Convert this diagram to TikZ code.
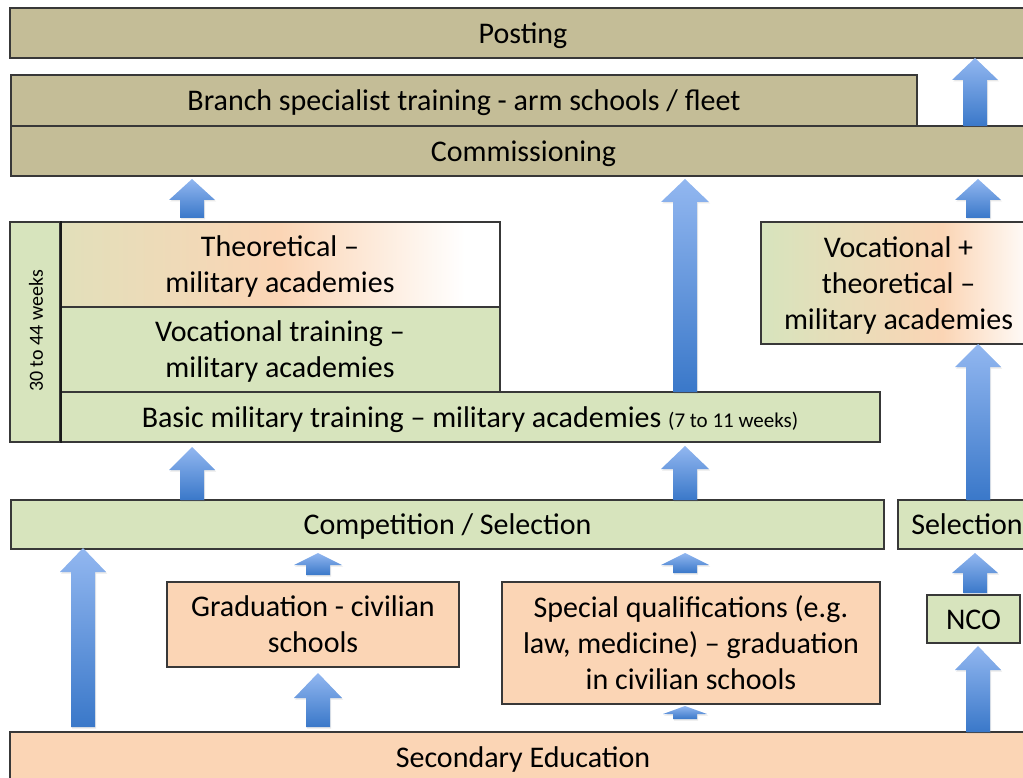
\documentclass[tikz,border=0pt]{standalone}
\usepackage{fontspec}
\setmainfont{Carlito}
\usetikzlibrary{shadows}
\definecolor{tanc}{HTML}{C4BD97}
\definecolor{grc}{HTML}{D7E4BD}
\definecolor{pcc}{HTML}{FBD5B5}
\definecolor{bordc}{HTML}{383838}
\definecolor{arrtop}{HTML}{92B7F0}
\definecolor{arrbot}{HTML}{3A78C9}
\pgfdeclarehorizontalshading{theoshade}{100bp}{color(0bp)=(grc); color(25bp)=(grc!70!pcc); color(50bp)=(pcc); color(71bp)=(white); color(100bp)=(white)}
\pgfdeclarehorizontalshading{vocshade}{100bp}{color(0bp)=(grc); color(25bp)=(grc); color(58bp)=(pcc); color(75bp)=(white); color(100bp)=(white)}
\newcommand\mystrut{\rule[-8.1pt]{0pt}{36.6pt}}
\newcommand\blockarr[5]{%
  \shade[arrowsty] (#1-12,#4) -- (#1-12,#3) -- (#1-#5,#3) -- (#1,#2) -- (#1+#5,#3) -- (#1+12,#3) -- (#1+12,#4) -- cycle;}
\begin{document}
\begin{tikzpicture}[x=1pt,y=-1pt,
  box/.style={draw=bordc, line width=1.3pt, inner sep=0pt, align=center,
    font=\fontsize{30}{36}\selectfont,
    execute at begin node=\mystrut, execute at end node=\mystrut},
  tanbox/.style={box, fill=tanc},
  grbox/.style={box, fill=grc},
  pcbox/.style={box, fill=pcc},
  arrowsty/.style={top color=arrtop, bottom color=arrbot, draw=none,
    drop shadow={opacity=0.18, shadow xshift=1.2pt, shadow yshift=-1.5pt}}]
\useasboundingbox (0,0) rectangle (1023,778);
\clip (0,0) rectangle (1023,778);
% top rows
\node[tanbox, minimum width=1026pt, minimum height=50pt] (posting) at (523,33) {Posting};
\node[tanbox, minimum width=906pt, minimum height=51pt] (branch) at (464,100.5) {Branch specialist training - arm schools / fleet};
\node[tanbox, minimum width=1025pt, minimum height=50pt] (commiss) at (523.5,151) {Commissioning};
% left academy block
\node[grbox, minimum width=50pt, minimum height=220pt] (weeks) at (35,332) {};
\node[rotate=90, font=\fontsize{20}{24}\selectfont, inner sep=0pt] (weekslbl) at (36,331) {30 to 44 weeks};
\node[box, shade, shading=theoshade, minimum width=440pt, minimum height=85pt] (theo) at (280,264.5) {\mystrut Theoretical --\\military academies};
\node[grbox, minimum width=440pt, minimum height=85pt] (voc) at (280,349.5) {\mystrut Vocational training --\\military academies};
\node[grbox, minimum width=820pt, minimum height=50pt] (basic) at (470,417) {Basic military training -- military academies {\fontsize{21}{24}\selectfont (7 to 11 weeks)}};
\draw[line width=2.2pt, black!90] (weeks.north east) -- (weeks.south east);
% right academy
\node[box, shade, shading=vocshade, minimum width=275pt, minimum height=122pt] (vocth) at (898.5,283) {\mystrut Vocational +\\theoretical --\\military academies};
% selection row
\node[grbox, minimum width=873pt, minimum height=49pt] (comp) at (447.5,524.5) {Competition / Selection};
\node[grbox, minimum width=138pt, minimum height=49pt] (sel) at (967,524.5) {Selection};
% lower row
\node[pcbox, minimum width=292pt, minimum height=85pt] (grad) at (313,624.5) {\mystrut Graduation - civilian\\schools};
\node[pcbox, minimum width=378pt, minimum height=122pt] (spec) at (691,643) {\mystrut Special qualifications (e.g.\\law, medicine) -- graduation\\in civilian schools};
\node[grbox, minimum width=93pt, minimum height=48pt] (nco) at (973.5,619) {NCO};
\node[pcbox, minimum width=1026pt, minimum height=51pt] (sec) at (523,757.5) {Secondary Education};
% block arrows: x, tip, head base, bottom, head half width
\blockarr{975}{58}{80}{126}{23}
\blockarr{192}{179}{200}{218}{23}
\blockarr{685}{179}{202}{392}{24}
\blockarr{978}{179}{200}{218}{23}
\blockarr{978}{344}{367}{500}{23}
\blockarr{192}{447}{470}{500}{23}
\blockarr{685}{446}{469}{500}{24}
\blockarr{83}{548}{572}{727}{23}
\blockarr{318}{553}{565}{575}{24}
\blockarr{318}{673}{698}{727}{24}
\blockarr{685}{553}{565}{573}{24}
\blockarr{685}{706}{714}{719}{22}
\blockarr{975}{553}{573}{593}{23}
\blockarr{978}{646}{670}{732}{23}
\end{tikzpicture}
\end{document}
